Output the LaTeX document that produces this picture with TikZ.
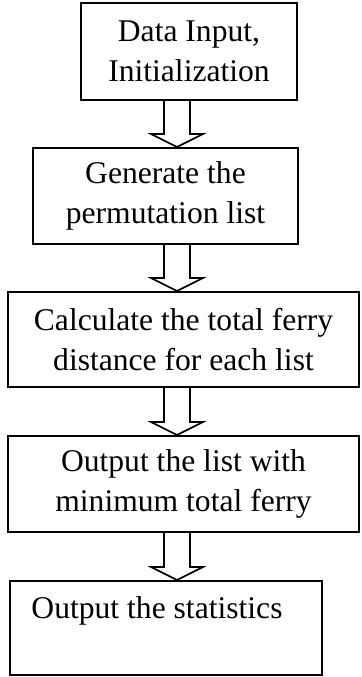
\documentclass[tikz,border=0pt]{standalone}
\usepackage{fontspec}
\setmainfont{Liberation Serif}
\usepackage{tikz}
\usetikzlibrary{calc}
\tikzstyle{box} = [draw, line width=1pt, align=center, inner sep=0pt, font=\fontsize{15.8pt}{20pt}\selectfont]
\tikzstyle{hollow} = [line width=0.8pt, line join=miter]

\begin{document}
\begin{tikzpicture}[x=0.5pt,y=-0.5pt]
			\useasboundingbox (0,0) rectangle (361,677);
			\coordinate (axis) at (177,0);
			\node[box, minimum width=108pt, minimum height=48.5pt] (init) at (189,51.5) {Data Input,\\Initialization};
			\node[box, minimum width=132.5pt, minimum height=48pt] (perm) at (165.5,196) {Generate the\\permutation list};
			\node[box, minimum width=175.5pt, minimum height=47.5pt] (calc) at (183.5,339.5) {Calculate the total ferry\\distance for each list};
			\node[box, minimum width=175.5pt, minimum height=48pt] (best) at (183.5,484) {Output the list with\\minimum total ferry};
			\node[box, minimum width=156pt, minimum height=47pt] (stats) at (166,628) {Output the statistics\hspace*{9pt}\\ \mbox{}};
			\foreach \a/\b in {init/perm,perm/calc,calc/best,best/stats}
				\draw[hollow] ($(\a.south -| axis)+(-13,0)$) -- ($(\b.north -| axis)+(-13,-13)$) -- ++(-13,0) -- (\b.north -| axis) -- ++(26,-13) -- ++(-13,0) -- ($(\a.south -| axis)+(13,0)$);
		\end{tikzpicture}
\end{document}
